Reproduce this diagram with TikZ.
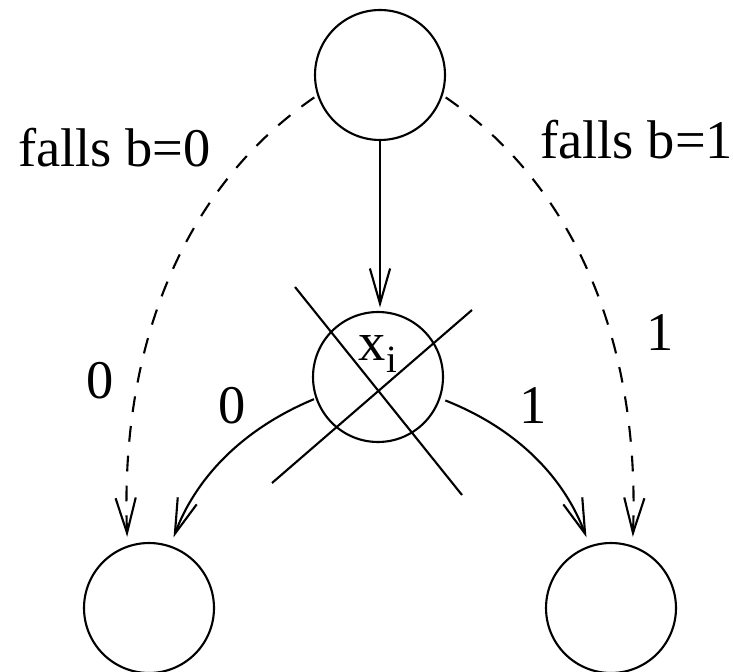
\documentclass[tikz,border=0pt]{standalone}
\usepackage{fontspec}
\setmainfont{Liberation Serif}
\usetikzlibrary{arrows.meta}
\begin{document}
\begin{tikzpicture}[x=0.02cm,y=-0.02cm,
  state/.style={circle,draw,line width=1.2pt,minimum size=2.6cm,inner sep=0pt},
  conn/.style={line width=1.2pt,-{Straight Barb[length=20pt,width=11.5pt,line width=1.2pt]}},
  dashconn/.style={conn,dash pattern=on 9pt off 8pt},
  crossline/.style={line width=1.2pt},
  lbl/.style={font=\fontsize{31}{31}\selectfont,inner sep=0pt,anchor=base}]
\fill[white] (0,0) rectangle (733,672);
\useasboundingbox (0,0) rectangle (733,672);
\node[state] (top) at (380,75) {};
\node[state] (mid) at (378,377) {};
\node[state] (bl) at (149,608) {};
\node[state] (br) at (611,608) {};
% x_i label
\node[lbl,anchor=base west] (xlab) at (358,360) {x\kern0.5pt\raisebox{-7pt}{\fontsize{22}{22}\selectfont i}};
% cross lines
\coordinate (c1a) at (295,287); \coordinate (c1b) at (462,495);
\coordinate (c2a) at (472,310); \coordinate (c2b) at (272,483);
\draw[crossline] (c1a) -- (c1b);
\draw[crossline] (c2a) -- (c2b);
% connectors
\draw[conn,shorten >=2pt] (top.south) -- (top.south |- mid.north);
\draw[conn,shorten <=1pt,shorten >=5pt] (mid.199) .. controls (240,430) and (195,480) .. (bl.71);
\draw[conn,shorten <=3pt,shorten >=5pt] (mid.-19) .. controls (520,430) and (565,480) .. (br.109);
\draw[dashconn,shorten <=2pt,shorten >=5pt] (top.198) .. controls (180,190) and (120,350) .. (bl.109);
\draw[dashconn,shorten <=2pt,shorten >=5pt] (top.-18) .. controls (580,190) and (640,350) .. (br.71);
% labels
\node[lbl,anchor=base west] (fb0) at (18,167) {falls b=0};
\node[lbl,anchor=base west] (fb1) at (540,159) {falls b=1};
\node[lbl] (l0a) at (100,398) {0};
\node[lbl] (l0b) at (232,423) {0};
\node[lbl] (l1a) at (533,423) {1};
\node[lbl] (l1b) at (660,350) {1};
\end{tikzpicture}
\end{document}
